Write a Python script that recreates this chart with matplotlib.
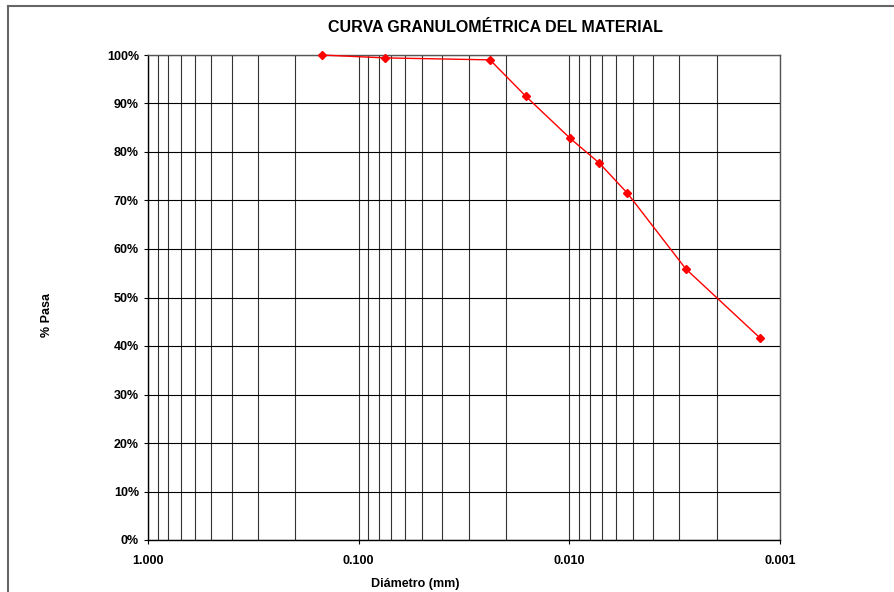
import matplotlib.pyplot as plt
from matplotlib.ticker import FixedLocator, FuncFormatter, LogLocator, NullFormatter
from matplotlib.lines import Line2D

# datos
diametro = [0.150, 0.075, 0.0238, 0.0161, 0.0099, 0.0072, 0.0053, 0.0028, 0.00124]
pasa = [100.0, 99.4, 99.0, 91.5, 82.8, 77.7, 71.5, 55.9, 41.6]

x_ticks = [1.0, 0.1, 0.01, 0.001]
y_ticks = list(range(0, 101, 10))

plt.rcParams['font.family'] = ['Liberation Sans', 'DejaVu Sans']
plt.rcParams['font.weight'] = 'bold'

fig = plt.figure(figsize=(8.94, 5.92), dpi=100)
ax = fig.add_axes([148 / 894, 1 - 540 / 592, 632 / 894, 485 / 592])

ax.set_xscale('log')
ax.set_xlim(1.0, 0.001)
ax.set_ylim(0, 100)

ax.xaxis.set_major_locator(FixedLocator(x_ticks))
ax.xaxis.set_major_formatter(FuncFormatter(lambda v, p: "%.3f" % v))
ax.xaxis.set_minor_locator(LogLocator(base=10, subs=range(2, 10)))
ax.xaxis.set_minor_formatter(NullFormatter())
ax.yaxis.set_major_locator(FixedLocator(y_ticks))
ax.yaxis.set_major_formatter(FuncFormatter(lambda v, p: "%d%%" % v))

ax.grid(True, which='both', axis='x', color='#333333', linewidth=0.8)
ax.grid(True, which='major', axis='y', color='black', linewidth=0.8)
ax.set_axisbelow(True)

ax.tick_params(axis='both', which='major', labelsize=9, length=3, direction='out')
ax.tick_params(axis='x', which='minor', length=0)
ax.tick_params(axis='x', pad=8)
for lbl in ax.get_xticklabels() + ax.get_yticklabels():
    lbl.set_fontweight('bold')

for s in ax.spines.values():
    s.set_color('#555555')
    s.set_linewidth(1.0)
ax.spines['left'].set_color('black')
ax.spines['bottom'].set_color('black')

ax.plot(diametro, pasa, color='red', linewidth=1.0, marker='D', markersize=4,
        markerfacecolor='red', markeredgecolor='red', zorder=5, clip_on=False)

fig.text(495 / 894, 1 - 27 / 592, "CURVA GRANULOMÉTRICA DEL MATERIAL", fontsize=11.5,
         fontweight='bold', ha='center', va='center')
ax.set_xlabel("Diámetro (mm)", fontsize=9, fontweight='bold')
ax.xaxis.set_label_coords(0.4225, -0.078)
ax.set_ylabel("% Pasa", fontsize=9, fontweight='bold')
ax.yaxis.set_label_coords(-0.150, 0.464)

# marco exterior del grafico
fig.add_artist(Line2D([8 / 894, 1], [1 - 6 / 592, 1 - 6 / 592], color='#666666', linewidth=1.5,
                      transform=fig.transFigure))
fig.add_artist(Line2D([8 / 894, 8 / 894], [0, 1 - 6 / 592], color='#666666', linewidth=1.5,
                      transform=fig.transFigure))

fig.savefig("out.png", dpi=100)
